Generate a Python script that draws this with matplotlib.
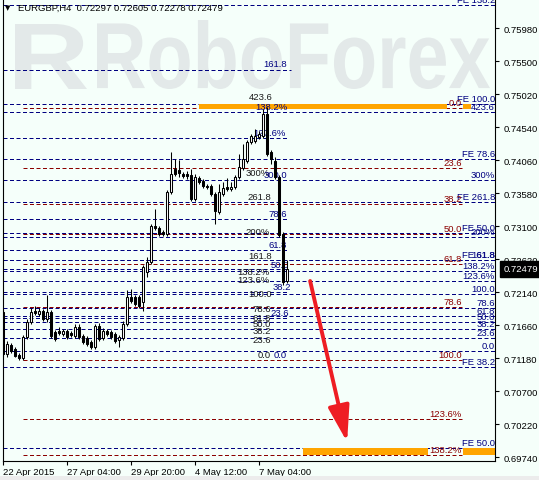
import numpy as np
import matplotlib.pyplot as plt
from matplotlib.patches import Rectangle, PathPatch, FancyArrowPatch
from matplotlib.textpath import TextPath
from matplotlib.font_manager import FontProperties
from matplotlib.transforms import Affine2D, IdentityTransform

plt.rcParams['font.family'] = ['Liberation Sans', 'DejaVu Sans']

W, H, DPI = 539, 481, 100
FS = 6.8
BG = '#F5FFFA'
NAVY = '#000080'
DRED = '#8B0000'
DARK = '#1A1A1A'

# EURGBP H4 candles
opens = [0.71849, 0.71238, 0.71369, 0.71311, 0.71224, 0.71180, 0.71485, 0.71704, 0.71864, 0.71820,
         0.71864, 0.71747, 0.71849, 0.71558, 0.71573, 0.71529, 0.71573, 0.71544, 0.71500, 0.71631,
         0.71500, 0.71471, 0.71413, 0.71340, 0.71645, 0.71471, 0.71573, 0.71558, 0.71529, 0.71442,
         0.71471, 0.71675, 0.72067, 0.72067, 0.72067, 0.71995, 0.72431, 0.72576, 0.73100, 0.73071,
         0.73013, 0.72984, 0.73595, 0.73929, 0.73915, 0.73856, 0.73856, 0.73842, 0.73493, 0.73798,
         0.73755, 0.73682, 0.73682, 0.73565, 0.73304, 0.73565, 0.73667, 0.73638, 0.73667, 0.73813,
         0.73944, 0.74045, 0.74322, 0.74336, 0.74395, 0.74409, 0.74729, 0.74176, 0.74045, 0.73813,
         0.72984, 0.72297]
highs = [0.71893, 0.71427, 0.71398, 0.71340, 0.71253, 0.71515, 0.71747, 0.71907, 0.71936, 0.71907,
         0.71893, 0.72096, 0.71878, 0.71587, 0.71631, 0.71602, 0.71602, 0.71573, 0.71675, 0.71675,
         0.71529, 0.71500, 0.71442, 0.71675, 0.71689, 0.71616, 0.71602, 0.71587, 0.71558, 0.71515,
         0.71718, 0.72169, 0.72184, 0.72096, 0.72096, 0.72533, 0.72649, 0.73129, 0.73347, 0.73100,
         0.73042, 0.73624, 0.74176, 0.74075, 0.74060, 0.73885, 0.73900, 0.73929, 0.73856, 0.73827,
         0.73784, 0.73711, 0.73711, 0.73595, 0.73711, 0.73740, 0.73798, 0.73740, 0.73842, 0.74147,
         0.74293, 0.74351, 0.74438, 0.74511, 0.74482, 0.74802, 0.74831, 0.74205, 0.74104, 0.73842,
         0.73013, 0.72605]
lows = [0.71195, 0.71195, 0.71253, 0.71195, 0.71151, 0.71151, 0.71456, 0.71675, 0.71805, 0.71791,
        0.71718, 0.71704, 0.71471, 0.71427, 0.71515, 0.71500, 0.71456, 0.71485, 0.71471, 0.71456,
        0.71384, 0.71355, 0.71311, 0.71311, 0.71427, 0.71442, 0.71500, 0.71456, 0.71398, 0.71340,
        0.71442, 0.71645, 0.71980, 0.71936, 0.71907, 0.71864, 0.72358, 0.72547, 0.73042, 0.72955,
        0.72955, 0.72955, 0.73565, 0.73827, 0.73813, 0.73798, 0.73784, 0.73464, 0.73464, 0.73711,
        0.73653, 0.73638, 0.73536, 0.73129, 0.73275, 0.73536, 0.73609, 0.73609, 0.73638, 0.73784,
        0.73915, 0.74016, 0.74293, 0.74307, 0.74365, 0.74380, 0.74118, 0.74002, 0.73784, 0.72940,
        0.72242, 0.72278]
closes = [0.71238, 0.71384, 0.71282, 0.71209, 0.71180, 0.71485, 0.71704, 0.71849, 0.71835, 0.71864,
          0.71747, 0.71849, 0.71500, 0.71456, 0.71544, 0.71573, 0.71485, 0.71515, 0.71631, 0.71485,
          0.71413, 0.71384, 0.71340, 0.71645, 0.71456, 0.71573, 0.71529, 0.71485, 0.71427, 0.71485,
          0.71675, 0.72067, 0.72009, 0.71965, 0.71936, 0.72504, 0.72576, 0.73100, 0.73071, 0.72984,
          0.72984, 0.73595, 0.73856, 0.73856, 0.73871, 0.73827, 0.73827, 0.73493, 0.73813, 0.73740,
          0.73682, 0.73667, 0.73565, 0.73318, 0.73595, 0.73653, 0.73638, 0.73667, 0.73813, 0.73958,
          0.74075, 0.74322, 0.74409, 0.74409, 0.74438, 0.74729, 0.74147, 0.74075, 0.73813, 0.72969,
          0.72285, 0.72479]

tick_bars = [0, 16, 32, 48, 64]
tick_labels = ['22 Apr 2015', '27 Apr 04:00', '29 Apr 20:00', '4 May 12:00', '7 May 04:00']
price_ticks = [0.69740, 0.70220, 0.70700, 0.71180, 0.71660, 0.72140, 0.72620,
               0.73100, 0.73580, 0.74060, 0.74540, 0.75020, 0.75500, 0.75980]
last_price = 0.72479

# blue Fibonacci expansion levels running across the whole chart
blue_levels = [0.76315, 0.74875, 0.74758, 0.74075, 0.73769, 0.73449, 0.72998, 0.72940,
               0.72605, 0.72605, 0.72445, 0.72300, 0.72111, 0.71907, 0.71791, 0.71704,
               0.71602, 0.71471, 0.71282, 0.71049, 0.69871]
blue_labels = ['FE 138.2', 'FE 100.0', '423.6', 'FE 78.6', '300%', 'FE 261.8', 'FE 50.0', '200%',
               'FE 61.8', '161.8', '138.2%', '123.6%', '100.0', '78.6', '61.8', '50.0',
               '38.2', '23.6', '0.0', 'FE 38.2', 'FE 50.0']
# blue levels that stop at the last candle
short_levels = [0.75369, 0.74380, 0.73202, 0.72751, 0.72475, 0.72140, 0.71762]
short_end = [72.0, 71.1, 71.1, 71.1, 71.1, 71.1, 71.1]
# red Fibonacci retracement
red_levels = [0.74816, 0.73944, 0.73420, 0.72984, 0.72547, 0.71922, 0.71151, 0.70293, 0.69769]
red_labels = ['0.0', '23.6', '38.2', '50.0', '61.8', '78.6', '100.0', '123.6%', '138.2%']
red_start, red_end = 5.1, 114.85

# orange target zones
zone_x0 = [49.1, 115.1, 75.1, 115.1]
zone_x1 = [111.1, 117.1, 106.35, 123.1]
zone_lo = [0.74802, 0.74802, 0.69769, 0.69769]
zone_hi = [0.74875, 0.74875, 0.69871, 0.69871]

# level captions near the last candles
mid_x = [65.1, 61.4, 63.1, 62.6, 60.6, 65.1, 61.1, 66.35, 60.6, 66.35, 61.35, 66.85,
         58.6, 58.6, 67.35, 61.35, 62.35, 66.85, 62.35, 62.35, 62.35, 62.35, 63.6, 67.6]
mid_y = [0.75471, 0.74991, 0.74845, 0.74453, 0.73885, 0.73856, 0.73536, 0.73275, 0.73013,
         0.72838, 0.72664, 0.72547, 0.72445, 0.72329, 0.72227, 0.72125, 0.71907, 0.71849,
         0.71776, 0.71675, 0.71573, 0.71456, 0.71224, 0.71224]
mid_text = ['161.8', '423.6', '138.2%', '127.6%', '300%', '300.0', '261.8', '78.6', '200%',
            '61.8', '161.8', '50.0', '138.2%', '123.6%', '38.2', '100.0', '78.6', '23.6',
            '61.8', '50.0', '38.2', '23.6', '0.0', '0.0']
mid_color = [NAVY, DARK, NAVY, NAVY, DARK, NAVY, DARK, NAVY, DARK, NAVY, DARK, NAVY,
             DARK, DARK, NAVY, DARK, DARK, NAVY, DARK, DARK, DARK, DARK, DARK, NAVY]

arrow_start = (76.85, 0.72300)
arrow_end = (86.1, 0.69958)

fig = plt.figure(figsize=(W / DPI, H / DPI), dpi=DPI, facecolor=BG)
ax = fig.add_axes([3 / W, 19 / H, 492 / W, 462 / H], facecolor=BG)
ax.set_xlim(0.1, 123.1)
ax.set_ylim(0.69682, 0.76402)
x_end = 123.1


def watermark(text, box, weight='bold'):
    x0, y0, x1, y1 = box
    tp = TextPath((0, 0), text, size=100,
                  prop=FontProperties(family='Liberation Sans', weight=weight))
    bb = tp.get_extents()
    tr = (Affine2D().translate(-bb.x0, -bb.y0)
          .scale((x1 - x0) / bb.width, (y1 - y0) / bb.height)
          .translate(x0, H - y1))
    ax.add_patch(PathPatch(tr.transform_path(tp), fc='#E3E9E9', ec='none',
                           transform=IdentityTransform(), zorder=0.2))


watermark('R', (15, 25, 87, 90))
watermark('RoboForex', (97, 21, 490, 90))

dash = (0, (4, 2.5))
ax.hlines(blue_levels, 0.1, x_end, colors=NAVY, linestyles=[dash], lw=0.72, zorder=1)
ax.hlines(short_levels, 0.1, short_end, colors=NAVY, linestyles=[dash], lw=0.72, zorder=1)
ax.hlines(red_levels, red_start, red_end, colors=DRED, linestyles=[dash], lw=0.72, zorder=1)

for x0, x1, lo, hi in zip(zone_x0, zone_x1, zone_lo, zone_hi):
    ax.add_patch(Rectangle((x0, lo), x1 - x0, hi - lo, fc='#FFA500', ec='none', zorder=1.5))

for lev, lab in zip(blue_levels, blue_labels):
    ax.annotate(lab, xy=(x_end, lev), xytext=(0, 0.6), textcoords='offset points',
                ha='right', va='bottom', fontsize=FS, color=NAVY, annotation_clip=False, zorder=2)
for lev, lab in zip(red_levels, red_labels):
    ax.annotate(lab, xy=(red_end, lev), xytext=(0, 0.6), textcoords='offset points',
                ha='right', va='bottom', fontsize=FS, color=DRED, zorder=2)
for mx, my, t, c in zip(mid_x, mid_y, mid_text, mid_color):
    ax.text(mx, my, t, ha='left', va='center', fontsize=FS, color=c, zorder=2)

# candles
xs = np.arange(len(opens))
o, hi_, lo_, c = map(np.array, (opens, highs, lows, closes))
up = c >= o
ax.vlines(xs, lo_, hi_, color='black', lw=0.75, zorder=3)
body = np.maximum(np.abs(c - o), 0.00002)
ax.bar(xs, body, bottom=np.minimum(o, c), width=0.55,
       color=np.where(up, 'white', 'black'), edgecolor='black', lw=0.75, zorder=4)

ax.add_patch(FancyArrowPatch(arrow_start, arrow_end,
                             arrowstyle='-|>,head_length=2.2,head_width=0.65',
                             mutation_scale=10, color='#EE1D23', lw=2.8,
                             shrinkA=0, shrinkB=0, zorder=6))

# axes styling
for side in ('left', 'bottom', 'right'):
    ax.spines[side].set_color('black')
    ax.spines[side].set_linewidth(0.8)
ax.spines['top'].set_visible(False)
ax.yaxis.tick_right()
ax.set_yticks(price_ticks)
ax.set_yticklabels([f'{p:.5f}' for p in price_ticks])
ax.tick_params(axis='y', direction='out', length=3, width=0.8, pad=3, labelsize=FS)
ax.set_xticks(tick_bars)
ax.set_xticklabels(tick_labels, ha='left')
ax.tick_params(axis='x', direction='out', length=3, width=0.8, pad=1.5, labelsize=FS)

ax.annotate(f'{last_price:.5f}', xy=(1, last_price), xycoords=('axes fraction', 'data'),
            xytext=(6, 0), textcoords='offset points', ha='left', va='center',
            fontsize=FS, color='white', annotation_clip=False,
            bbox=dict(boxstyle='square,pad=0.35', fc='black', ec='black'))

fig.text(5 / W, 1 - 8 / H, '▼', fontsize=5, va='center', ha='left',
         family=['DejaVu Sans'])
fig.text(18 / W, 1 - 8 / H,
         f'EURGBP,H4  {opens[-1]:.5f} {highs[-1]:.5f} {lows[-1]:.5f} {closes[-1]:.5f}',
         fontsize=FS, va='center', ha='left', color='black')
fig.patches.append(Rectangle((0, 0), 1, 4 / H, transform=fig.transFigure,
                             fc='#ECECEC', ec='none'))

fig.savefig('out.png', dpi=DPI, facecolor=BG)
